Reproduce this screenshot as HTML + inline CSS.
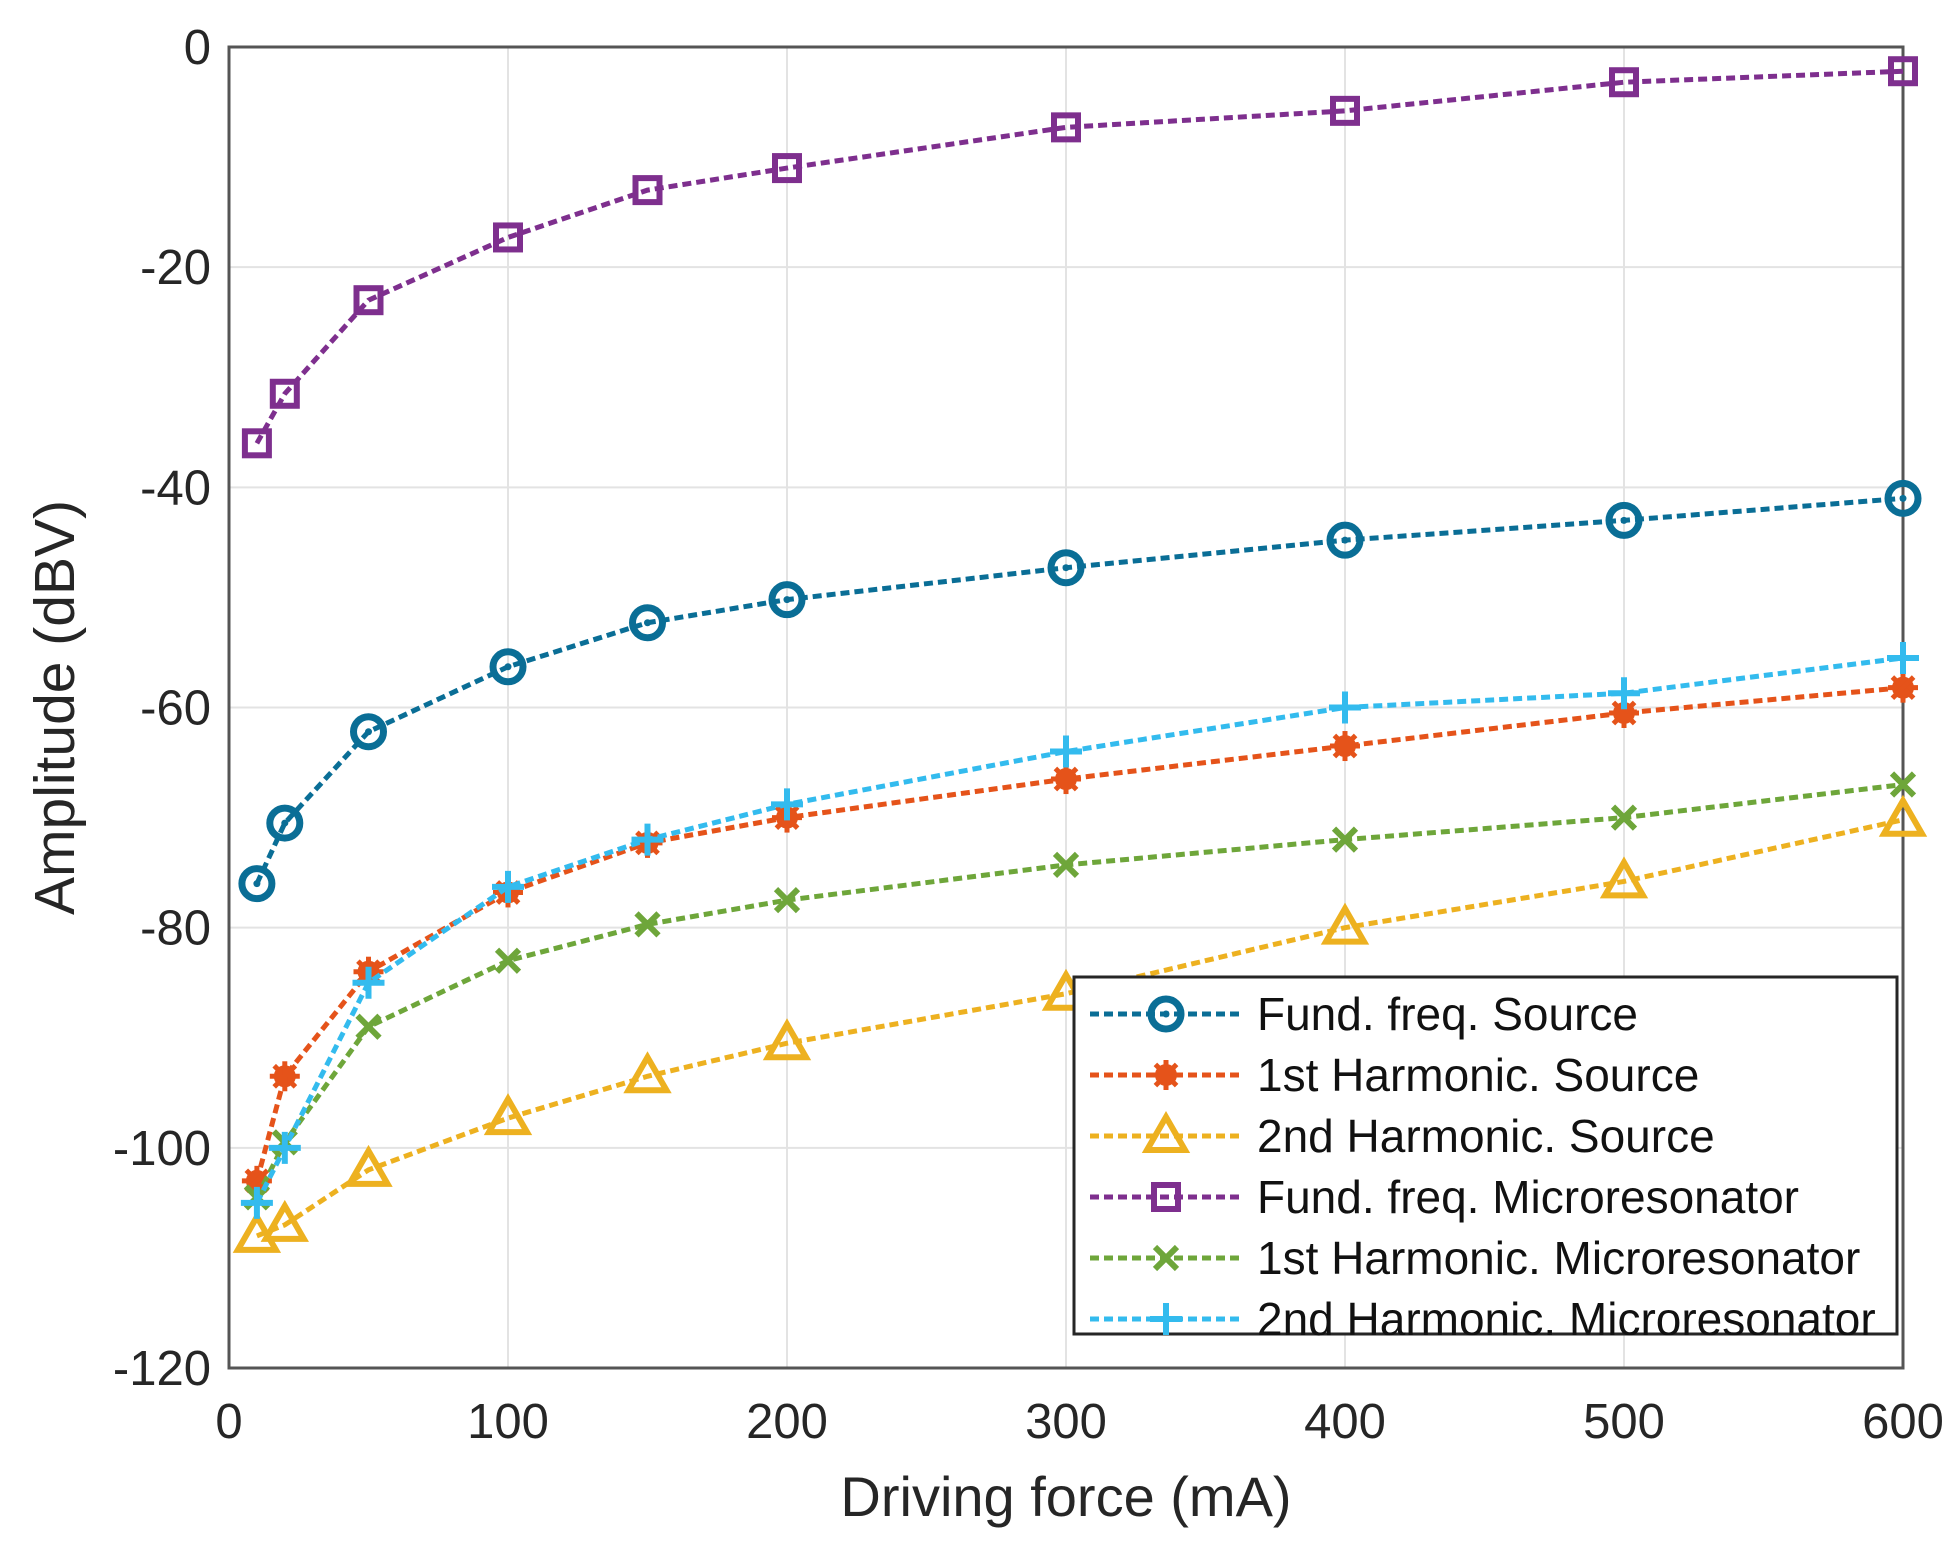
<!DOCTYPE html>
<html><head><meta charset="utf-8"><style>
html,body{margin:0;padding:0;background:#fff;}
svg{display:block;font-family:"Liberation Sans",sans-serif;}
</style></head><body>
<svg id="chart" width="1958" height="1555"></svg>
<script>
const xCats=[10,20,50,100,150,200,300,400,500,600];
const xTicks=[0,100,200,300,400,500,600];
const yTicks=[0,-20,-40,-60,-80,-100,-120];
const fundSource=[-76,-70.5,-62.2,-56.3,-52.3,-50.2,-47.3,-44.8,-43,-41];
const firstSource=[-103,-93.5,-84,-76.8,-72.3,-70,-66.5,-63.5,-60.5,-58.2];
const secondSource=[-108,-107,-102,-97.3,-93.5,-90.5,-86,-80,-75.8,-70.2];
const fundMicro=[-36,-31.5,-23,-17.3,-13,-11,-7.3,-5.8,-3.2,-2.2];
const firstMicro=[-104.5,-99.5,-89,-83,-79.7,-77.5,-74.3,-72,-70,-67];
const secondMicro=[-105,-100,-85,-76.3,-72,-68.8,-64,-60,-58.7,-55.5];
const seriesNames=["Fund. freq. Source","1st Harmonic. Source","2nd Harmonic. Source","Fund. freq. Microresonator","1st Harmonic. Microresonator","2nd Harmonic. Microresonator"];

const NS="http://www.w3.org/2000/svg";
const svg=document.getElementById('chart');
const L=229,R=1903,T=47,B=1368;
const xs=v=>L+(v-0)/600*(R-L);
const ys=v=>T+(0-v)/120*(B-T);
function mk(tag,attrs,parent){const e=document.createElementNS(NS,tag);for(const k in attrs)e.setAttribute(k,attrs[k]);(parent||svg).appendChild(e);return e;}

xTicks.forEach(t=>{const l=mk('line',{x1:xs(t),x2:xs(t),y1:T,y2:B,stroke:'#e3e3e3','stroke-width':2});


const tk=mk('text',{x:xs(t),y:B+70,'text-anchor':'middle','font-size':49,fill:'#262626'});tk.textContent=t;

});
yTicks.forEach(t=>{const l=mk('line',{x1:L,x2:R,y1:ys(t),y2:ys(t),stroke:'#e3e3e3','stroke-width':2});


const tk=mk('text',{x:L-18,y:ys(t)+17,'text-anchor':'end','font-size':49,fill:'#262626'});tk.textContent=t;

});
const box=mk('rect',{x:L,y:T,width:R-L,height:B-T,fill:'none',stroke:'#555','stroke-width':3});



const colors=['#0a6e96','#e5531a','#edb120','#7e2f8e','#6ea63a','#33bbee'];
const markers=['circle','star','triangle','square','x','plus'];
const data=[fundSource,firstSource,secondSource,fundMicro,firstMicro,secondMicro];
function marker(type,cx,cy,c,g){
  if(type==='circle'){mk('circle',{cx,cy,r:15,fill:'none',stroke:c,'stroke-width':7},g);mk('circle',{cx,cy,r:3.5,fill:c},g);}
  else if(type==='star'){mk('circle',{cx,cy,r:11,fill:c},g);[0,45,90,135].forEach(a=>{const r=a*Math.PI/180;mk('line',{x1:cx-15*Math.cos(r),y1:cy-15*Math.sin(r),x2:cx+15*Math.cos(r),y2:cy+15*Math.sin(r),stroke:c,'stroke-width':5},g);});}
  else if(type==='triangle'){mk('polygon',{points:`${cx},${cy-19} ${cx-19},${cy+14} ${cx+19},${cy+14}`,fill:'none',stroke:c,'stroke-width':6},g);}
  else if(type==='square'){mk('rect',{x:cx-12,y:cy-12,width:24,height:24,fill:'none',stroke:c,'stroke-width':6},g);}
  else if(type==='x'){mk('path',{d:`M${cx-11},${cy-11}L${cx+11},${cy+11}M${cx-11},${cy+11}L${cx+11},${cy-11}`,stroke:c,'stroke-width':6},g);}
  else {mk('path',{d:`M${cx-16},${cy}L${cx+16},${cy}M${cx},${cy-16}L${cx},${cy+16}`,stroke:c,'stroke-width':6},g);}
}
data.forEach((arr,i)=>{
  const g=mk('g',{});
  
  
  const pts=arr.map((v,j)=>xs(xCats[j])+','+ys(v)).join(' ');
  mk('polyline',{points:pts,fill:'none',stroke:colors[i],'stroke-width':5,'stroke-dasharray':'9 5'},g);
  arr.forEach((v,j)=>{marker(markers[i],xs(xCats[j]),ys(v),colors[i],g);});
});

const lg=mk('g',{});


mk('rect',{x:1074,y:977,width:823,height:357,fill:'#fff',stroke:'#262626','stroke-width':3},lg);
seriesNames.forEach((n,i)=>{
  const y=1014+i*61;
  const e=mk('g',{},lg);
  
  
  mk('line',{x1:1090,x2:1240,y1:y,y2:y,stroke:colors[i],'stroke-width':5,'stroke-dasharray':'9 5'},e);
  marker(markers[i],1166,y,colors[i],e);
  const t=mk('text',{x:1257,y:y+16,'font-size':46,fill:'#111'},e);t.textContent=n;
});

const xl=mk('text',{x:(L+R)/2,y:1516,'text-anchor':'middle','font-size':56,fill:'#262626'});xl.textContent='Driving force (mA)';


const yl=mk('text',{x:0,y:0,'text-anchor':'middle','font-size':57,fill:'#262626',transform:`translate(74,${(T+B)/2}) rotate(-90)`});yl.textContent='Amplitude (dBV)';


</script>
</body></html>
